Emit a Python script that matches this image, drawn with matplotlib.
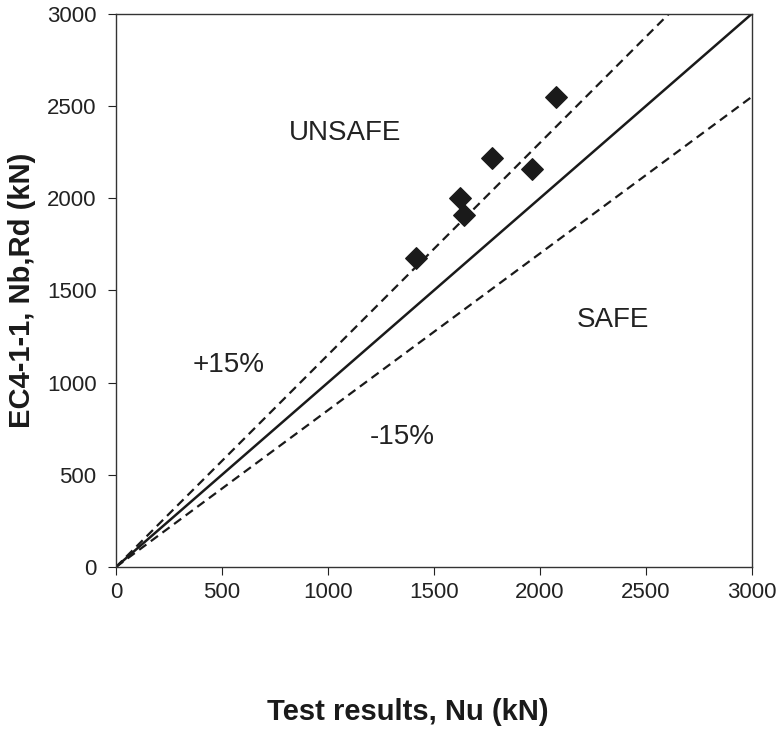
import numpy as np
import matplotlib.pyplot as plt

plt.rcParams['font.family'] = ['Liberation Sans', 'DejaVu Sans']

# test results vs EC4 predictions (kN)
test_nu = [1415, 1623, 1642, 1772, 1964, 2074]
ec4_nbrd = [1675, 2000, 1910, 2215, 2158, 2548]

lim = 3000
ticks = [0, 500, 1000, 1500, 2000, 2500, 3000]

fig = plt.figure(figsize=(7.81, 7.31), dpi=100)
ax = fig.add_axes([0.1485, 0.2244, 0.8145, 0.757])

xx = np.array([0, lim])
ax.plot(xx, xx, color='#1a1a1a', lw=1.8)
ax.plot(xx, 1.15 * xx, color='#1a1a1a', lw=1.6, ls=(0, (4, 2.5)))
ax.plot(xx, 0.85 * xx, color='#1a1a1a', lw=1.6, ls=(0, (4, 2.5)))
ax.scatter(test_nu, ec4_nbrd, marker='D', s=120, color='#1a1a1a', zorder=3)

txt = dict(fontsize=20, ha='center', va='center', color='#222222')
ax.text(1080, 2355, 'UNSAFE', **txt)
ax.text(2344, 1340, 'SAFE', **txt)
ax.text(533, 1096, '+15%', **txt)
ax.text(1349, 705, '-15%', **txt)

ax.set_xlim(0, lim)
ax.set_ylim(0, lim)
ax.set_xticks(ticks)
ax.set_yticks(ticks)
ax.tick_params(direction='out', length=6, labelsize=16, colors='#222222')
ax.tick_params(axis='x', pad=5)
ax.tick_params(axis='y', pad=8)
for s in ax.spines.values():
    s.set_linewidth(1.0)
    s.set_color('#333333')

fig.text(0.028, 0.603, 'EC4-1-1, Nb,Rd (kN)', fontsize=21, fontweight='bold',
         rotation=90, ha='center', va='center', color='#1a1a1a')
fig.text(0.522, 0.026, 'Test results, Nu (kN)', fontsize=21, fontweight='bold',
         ha='center', va='center', color='#1a1a1a')

fig.savefig('out.png', dpi=100)
